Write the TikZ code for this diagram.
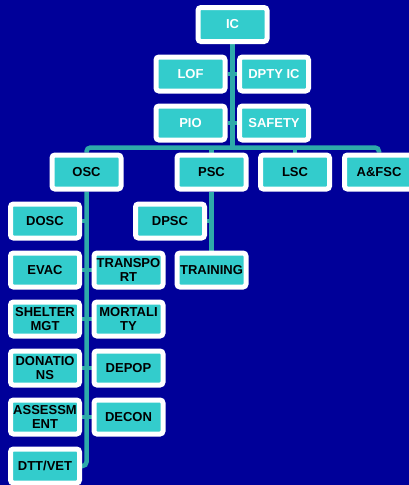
\documentclass[tikz,border=0pt]{standalone}
\usepackage{fontspec}
\setmainfont{Liberation Sans}
\usetikzlibrary{backgrounds}
\definecolor{navybg}{HTML}{000099}
\definecolor{boxcyan}{HTML}{33CCCC}
\definecolor{linkteal}{HTML}{2EAAAA}
\tikzset{
  box/.style={draw=white, line width=5pt, fill=boxcyan, rounded corners=3pt,
    minimum width=69pt, minimum height=34pt, inner sep=0pt, align=center,
    text=black, font=\bfseries\fontsize{13}{14}\selectfont},
  topbox/.style={box, text=white},
  link/.style={draw=linkteal, line width=4.5pt, rounded corners=4pt}
}
\begin{document}
\begin{tikzpicture}[x=1pt,y=-1pt]
\useasboundingbox (0,0) rectangle (409,485);
% top
\node[topbox] (ic) at (232.5,24.5) {IC};
\node[topbox] (lof) at (190.5,74) {LOF};
\node[topbox] (dpty) at (274,74) {DPTY IC};
\node[topbox] (pio) at (190.5,123) {PIO};
\node[topbox] (safety) at (274,123) {SAFETY};
% sections
\node[box] (osc) at (86.5,172) {OSC};
\node[box] (psc) at (211.5,172) {PSC};
\node[box] (lsc) at (295,172) {LSC};
\node[box] (afsc) at (379,172) {A\&FSC};
% operations
\node[box] (dosc) at (45,221) {DOSC};
\node[box] (evac) at (45,270) {EVAC};
\node[box] (transport) at (128.5,270) {TRANSPO\\RT};
\node[box] (shelter) at (45,319) {SHELTER\\MGT};
\node[box] (mortality) at (128.5,319) {MORTALI\\TY};
\node[box] (donations) at (45,368) {DONATIO\\NS};
\node[box] (depop) at (128.5,368) {DEPOP};
\node[box] (assess) at (45,417) {ASSESSM\\ENT};
\node[box] (decon) at (128.5,417) {DECON};
\node[box] (dtt) at (45,466) {DTT/VET};
% planning
\node[box] (dpsc) at (170,221) {DPSC};
\node[box] (training) at (211.5,270) {TRAINING};
\coordinate (bus) at (0,147.5);
\begin{scope}[on background layer]
  \fill[navybg] (0,0) rectangle (409,485);
  \draw[link] (ic.south) -- (ic.south |- bus);
  \draw[link] (lof.east) -- (dpty.west);
  \draw[link] (pio.east) -- (safety.west);
  \draw[link] (osc.north) -- (osc.north |- bus) -- (afsc.north |- bus) -- (afsc.north);
  \draw[link] (psc.north) -- (psc.north |- bus);
  \draw[link] (lsc.north) -- (lsc.north |- bus);
  \draw[link] (osc.south) |- (dtt.east);
  \draw[link] (dosc.east) -- (dosc.east -| osc.south);
  \draw[link] (evac.east) -- (transport.west);
  \draw[link] (shelter.east) -- (mortality.west);
  \draw[link] (donations.east) -- (depop.west);
  \draw[link] (assess.east) -- (decon.west);
  \draw[link] (psc.south) -- (training.north);
  \draw[link] (dpsc.east) -- (dpsc.east -| psc.south);
\end{scope}
\end{tikzpicture}
\end{document}
